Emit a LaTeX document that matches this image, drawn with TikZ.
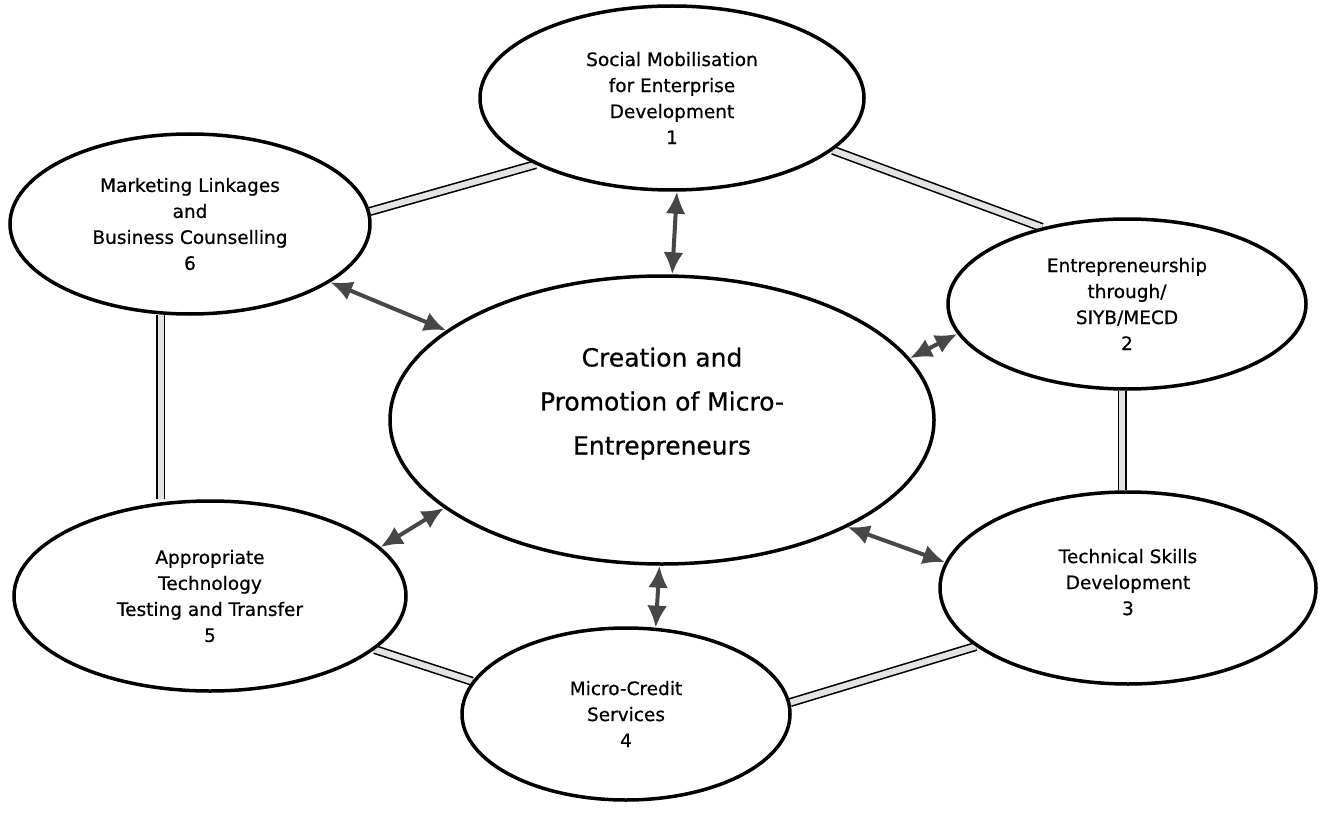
\documentclass[tikz,border=0pt]{standalone}
\usepackage{fontspec}
\setmainfont{DejaVu Sans}
\newfontfamily\lblfont{DejaVu Sans}[FakeBold=0.6]
\usetikzlibrary{shapes.geometric,arrows.meta,backgrounds}
\begin{document}
\begin{tikzpicture}[x=1pt,y=-1pt,
  oval/.style={ellipse, draw=black, line width=3.5pt, fill=white, inner sep=0pt, align=center, font=\lblfont\fontsize{18.5}{26}\selectfont},
  link/.style={draw=black, line width=1.6pt, double=gray!22, double distance=6pt},
  biarrow/.style={draw=black!72, line width=4pt, {Latex[length=22pt,width=20pt]}-{Latex[length=22pt,width=20pt]}}]
\node[oval, minimum width=384pt, minimum height=184pt] (e1) at (672,98) {Social Mobilisation\\for Enterprise\\Development\\1};
\node[oval, minimum width=358pt, minimum height=170pt] (e2) at (1127,304) {Entrepreneurship\\through/\\SIYB/MECD\\2};
\node[oval, minimum width=376pt, minimum height=192pt] (e3) at (1128,588) {Technical Skills\\Development\\3\\[-14pt]\mbox{}};
\node[oval, minimum width=328pt, minimum height=172pt] (e4) at (626,714) {Micro-Credit\\Services\\4};
\node[oval, minimum width=392pt, minimum height=190pt] (e5) at (210,596) {Appropriate\\Technology\\Testing and Transfer\\5};
\node[oval, minimum width=360pt, minimum height=180pt] (e6) at (190,224) {Marketing Linkages\\and\\Business Counselling\\6};
\node[oval, minimum width=544pt, minimum height=288pt, font=\lblfont\fontsize{25}{44}\selectfont] (c) at (662,420) {Creation and\\Promotion of Micro-\\Entrepreneurs\\[-6pt]\mbox{}};
\begin{pgfonlayer}{background}
\fill[white] (0,0) rectangle (1322,813);
\draw[link] (e6.4.8) -- (e1.206.7);
\draw[link] (e1.-18.4) -- (e2.138);
\draw[link] (e2.-93) -- (e2.-93 |- e3.north);
\draw[link] (e3.201.7) -- (e4.4.9);
\draw[link] (e5.-18.6) -- (e4.168.4);
\draw[link] (e6.252) -- (e6.252 |- e5.north);
\end{pgfonlayer}
\useasboundingbox (0,0) rectangle (1322,813);
\draw[biarrow] (e1.-87) -- (c.86);
\draw[biarrow] (e6) -- (c);
\draw[biarrow] (e2.190) -- (c.14.5);
\draw[biarrow] (e3.172) -- (c.-30.3);
\draw[biarrow] (e4.71) -- (c.-91);
\draw[biarrow] (e5.16.2) -- (c.202.1);
\end{tikzpicture}
\end{document}
